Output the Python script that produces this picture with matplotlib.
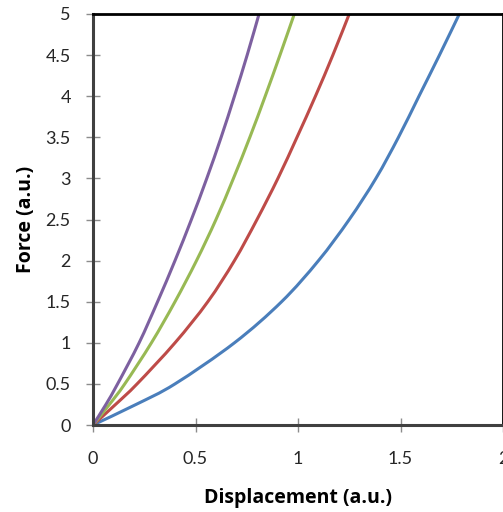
import matplotlib
matplotlib.use("Agg")
import matplotlib.pyplot as plt
from matplotlib.path import Path
from matplotlib.patches import PathPatch

# force levels (a.u.) and the displacement each sample reaches at that force
force = [0, 0.25, 0.5, 1.0, 1.5, 2.0, 2.5, 3.0, 3.5, 4.0, 4.5, 5.0]
disp_blue = [0, 0.21, 0.40, 0.69, 0.92, 1.10, 1.25, 1.38, 1.49, 1.59, 1.69, 1.787]
disp_red = [0, 0.11, 0.215, 0.40, 0.56, 0.69, 0.80, 0.902, 0.995, 1.085, 1.17, 1.25]
disp_green = [0, 0.08, 0.155, 0.285, 0.40, 0.505, 0.60, 0.685, 0.765, 0.84, 0.912, 0.982]
disp_purple = [0, 0.063, 0.12, 0.225, 0.315, 0.40, 0.48, 0.555, 0.625, 0.69, 0.752, 0.81]

x_ticks = [0, 0.5, 1, 1.5, 2]
x_labels = ["0", "0.5", "1", "1.5", "2"]
y_ticks = [0, 0.5, 1, 1.5, 2, 2.5, 3, 3.5, 4, 4.5, 5]
y_labels = ["0", "0.5", "1", "1.5", "2", "2.5", "3", "3.5", "4", "4.5", "5"]

plt.rcParams['font.family'] = ['Lato', 'DejaVu Sans']


def smooth_line(ax, xs, ys, color):
    # excel-like "smoothed line": cubic bezier through every point
    pts = list(zip(xs, ys))
    verts = [pts[0]]
    codes = [Path.MOVETO]
    n = len(pts)
    for i in range(n - 1):
        p0 = pts[i - 1] if i > 0 else pts[i]
        p1 = pts[i]
        p2 = pts[i + 1]
        p3 = pts[i + 2] if i + 2 < n else pts[i + 1]
        c1 = (p1[0] + (p2[0] - p0[0]) / 6, p1[1] + (p2[1] - p0[1]) / 6)
        c2 = (p2[0] - (p3[0] - p1[0]) / 6, p2[1] - (p3[1] - p1[1]) / 6)
        verts += [c1, c2, p2]
        codes += [Path.CURVE4] * 3
    ax.add_patch(PathPatch(Path(verts, codes), facecolor="none",
                           edgecolor=color, lw=2.2, capstyle="round"))


fig = plt.figure(figsize=(5.03, 5.12), dpi=100)
ax = fig.add_axes([93 / 503, 87 / 512, 410 / 503, 411 / 512])

smooth_line(ax, disp_blue, force, "#4A7EBB")
smooth_line(ax, disp_red, force, "#BE4B48")
smooth_line(ax, disp_green, force, "#98B954")
smooth_line(ax, disp_purple, force, "#7D60A0")

ax.set_xlim(0, 2)
ax.set_ylim(0, 5)
ax.set_xticks(x_ticks)
ax.set_xticklabels(x_labels)
ax.set_yticks(y_ticks)
ax.set_yticklabels(y_labels)

# excel style: gray axis lines, black plot-area frame
for side in ("left", "bottom"):
    ax.spines[side].set_color("#404040")
    ax.spines[side].set_linewidth(2.2)
for side in ("top", "right"):
    ax.spines[side].set_color("black")
    ax.spines[side].set_linewidth(2.0)

ax.tick_params(axis="both", direction="inout", length=10, width=1,
               color="#8c8c8c", labelsize=13, labelcolor="#262626")
ax.tick_params(axis="x", pad=14)
ax.tick_params(axis="y", pad=11)

ax.set_xlabel("Displacement (a.u.)", fontsize=14, fontweight="bold",
              family=["Open Sans", "DejaVu Sans"], labelpad=15)
ax.set_ylabel("Force (a.u.)", fontsize=14, fontweight="bold",
              family=["Open Sans", "DejaVu Sans"], labelpad=7)

fig.savefig("out.png", dpi=100)
